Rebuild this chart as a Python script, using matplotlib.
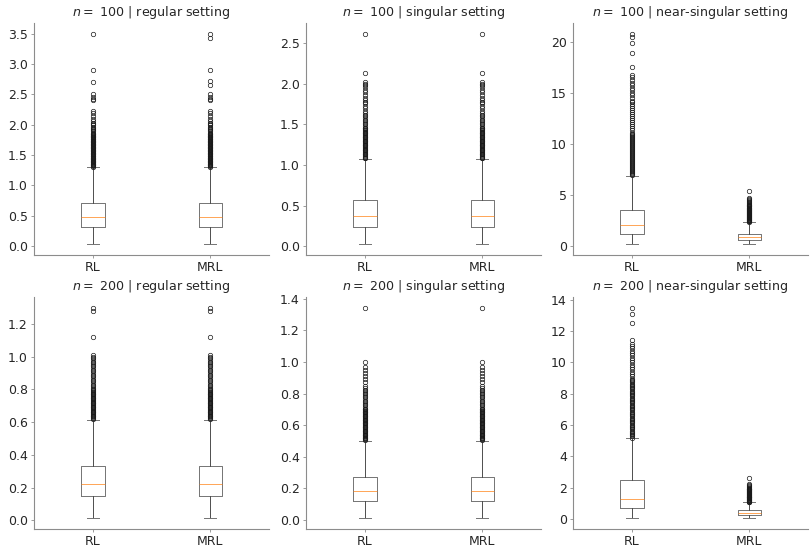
import matplotlib
matplotlib.use("Agg")
import matplotlib.pyplot as plt

# Noms des boîtes et des panneaux
METHODS = ["RL", "MRL"]
SAMPLE_SIZES = [100, 100, 100, 200, 200, 200]
SETTINGS = ["regular", "singular", "near-singular",
            "regular", "singular", "near-singular"]

# Statistiques : [RL, MRL] pour chaque panneau
whislo = [[0.03, 0.03], [0.02, 0.02], [0.13, 0.13],
          [0.012, 0.012], [0.008, 0.008], [0.04, 0.04]]
q1 = [[0.31, 0.31], [0.233, 0.233], [1.14, 0.59],
      [0.148, 0.148], [0.116, 0.116], [0.70, 0.25]]
med = [[0.475, 0.475], [0.375, 0.375], [2.0, 0.88],
       [0.225, 0.225], [0.181, 0.181], [1.31, 0.36]]
q3 = [[0.714, 0.714], [0.57, 0.57], [3.48, 1.2],
      [0.332, 0.332], [0.268, 0.268], [2.49, 0.55]]
whishi = [[1.30, 1.30], [1.07, 1.07], [6.87, 2.31],
          [0.616, 0.616], [0.502, 0.502], [5.18, 1.06]]

# Valeurs aberrantes (fliers)
fl_reg100_rl = [1.31, 1.33, 1.35, 1.37, 1.39, 1.41, 1.43, 1.45, 1.47, 1.49,
                1.51, 1.53, 1.55, 1.57, 1.59, 1.61, 1.63, 1.65, 1.67, 1.69,
                1.71, 1.73, 1.75, 1.77, 1.79, 1.81, 1.83, 1.85, 1.87, 1.89,
                1.91, 1.93, 1.95, 1.97, 1.99, 2.01, 2.03, 2.06, 2.09, 2.15,
                2.2, 2.22, 2.4, 2.43, 2.45, 2.5, 2.7, 2.9, 3.5,
                1.32, 1.34, 1.36, 1.38, 1.40, 1.42, 1.44, 1.46, 1.48, 1.50,
                1.52, 1.54, 1.56, 1.58, 1.60, 1.62, 1.64, 1.66, 1.68, 1.70,
                1.72, 1.74, 1.76, 1.78, 1.80, 1.82, 1.84]
fl_reg100_mrl = [1.31, 1.33, 1.35, 1.37, 1.39, 1.41, 1.43, 1.45, 1.47, 1.49,
                 1.51, 1.53, 1.55, 1.57, 1.59, 1.61, 1.63, 1.65, 1.67, 1.69,
                 1.71, 1.73, 1.75, 1.77, 1.79, 1.81, 1.83, 1.85, 1.87, 1.89,
                 1.91, 1.93, 1.95, 1.97, 1.99, 2.01, 2.03, 2.06, 2.09, 2.15,
                 2.2, 2.22, 2.4, 2.43, 2.46, 2.5, 2.66, 2.72, 2.9, 3.43, 3.5,
                 1.32, 1.34, 1.36, 1.38, 1.40, 1.42, 1.44, 1.46, 1.48, 1.50,
                 1.52, 1.54, 1.56, 1.58, 1.60, 1.62, 1.64, 1.66, 1.68, 1.70,
                 1.72, 1.74, 1.76, 1.78, 1.80, 1.82, 1.84]
fl_sing100 = [1.08, 1.10, 1.12, 1.14, 1.16, 1.18, 1.20, 1.22, 1.24, 1.26,
              1.28, 1.30, 1.32, 1.34, 1.36, 1.38, 1.40, 1.42, 1.44, 1.46,
              1.48, 1.50, 1.52, 1.54, 1.56, 1.58, 1.60, 1.62, 1.64, 1.67,
              1.70, 1.73, 1.76, 1.78, 1.80, 1.83, 1.86, 1.90, 1.93, 1.96,
              1.98, 2.0, 2.02, 2.13, 2.62,
              1.09, 1.11, 1.13, 1.15, 1.17, 1.19, 1.21, 1.23, 1.25, 1.27,
              1.29, 1.31, 1.33, 1.35, 1.37, 1.39, 1.41, 1.43, 1.45]
fl_near100_rl = [6.9, 7.1, 7.3, 7.5, 7.7, 7.9, 8.1, 8.3, 8.5, 8.7, 8.9,
                 9.1, 9.3, 9.5, 9.7, 9.9, 10.1, 10.3, 10.5, 10.7, 10.9,
                 11.1, 11.3, 11.5, 11.7, 11.9, 12.1, 12.3, 12.5, 12.7, 12.9,
                 13.1, 13.3, 13.5, 13.7, 13.9, 14.1, 14.2, 14.5, 14.8, 15.0,
                 15.3, 15.5, 15.8, 16.0, 16.2, 16.5, 16.7, 17.5, 18.9, 19.9,
                 20.5, 20.8,
                 7.0, 7.2, 7.4, 7.6, 7.8, 8.0, 8.2, 8.4, 8.6, 8.8, 9.0,
                 9.2, 9.4, 9.6, 9.8, 10.0, 10.2, 10.4, 10.6, 10.8, 11.0]
fl_near100_mrl = [2.35, 2.45, 2.55, 2.65, 2.75, 2.85, 2.95, 3.05, 3.15, 3.25,
                  3.35, 3.45, 3.55, 3.65, 3.75, 3.85, 3.95, 4.05, 4.15, 4.25,
                  4.35, 4.45, 4.55, 4.65, 5.35,
                  2.4, 2.5, 2.6, 2.7, 2.8, 2.9, 3.0, 3.1, 3.2, 3.3, 3.4,
                  3.5, 3.6, 3.7, 3.8, 3.9, 4.0]
fl_reg200 = [0.62, 0.63, 0.64, 0.65, 0.66, 0.67, 0.68, 0.69, 0.70, 0.71,
             0.72, 0.73, 0.74, 0.75, 0.76, 0.77, 0.78, 0.79, 0.80, 0.81,
             0.82, 0.83, 0.84, 0.85, 0.86, 0.87, 0.88, 0.89, 0.90, 0.91,
             0.92, 0.93, 0.94, 0.95, 0.96, 0.97, 0.98, 0.99, 1.0, 1.01,
             1.12, 1.28, 1.30,
             0.625, 0.635, 0.645, 0.655, 0.665, 0.675, 0.685, 0.695, 0.705,
             0.715, 0.725, 0.735, 0.745, 0.755, 0.765, 0.775, 0.785, 0.795]
fl_sing200 = [0.505, 0.515, 0.525, 0.535, 0.545, 0.555, 0.565, 0.575, 0.585,
              0.595, 0.605, 0.615, 0.625, 0.635, 0.645, 0.655, 0.665, 0.675,
              0.685, 0.695, 0.705, 0.715, 0.725, 0.735, 0.745, 0.755, 0.765,
              0.775, 0.785, 0.795, 0.805, 0.815, 0.825, 0.835, 0.845, 0.87,
              0.89, 0.91, 0.93, 0.95, 0.97, 1.0, 1.345,
              0.51, 0.52, 0.53, 0.54, 0.55, 0.56, 0.57, 0.58, 0.59, 0.60,
              0.61, 0.62, 0.63, 0.64, 0.65, 0.66, 0.67, 0.68, 0.69, 0.70]
fl_near200_rl = [5.2, 5.35, 5.5, 5.65, 5.8, 5.95, 6.1, 6.25, 6.4, 6.55, 6.7,
                 6.85, 7.0, 7.15, 7.3, 7.45, 7.6, 7.75, 7.9, 8.05, 8.2, 8.35,
                 8.5, 8.65, 8.8, 8.95, 9.1, 9.25, 9.4, 9.55, 9.7, 9.85, 10.0,
                 10.15, 10.3, 10.45, 10.6, 10.75, 10.9, 11.05, 11.2, 11.4,
                 12.5, 13.1, 13.5,
                 5.28, 5.43, 5.58, 5.73, 5.88, 6.03, 6.18, 6.33, 6.48, 6.63,
                 6.78, 6.93, 7.08, 7.23, 7.38, 7.53, 7.68, 7.83, 7.98, 8.13,
                 8.28, 8.43, 8.58, 8.73, 8.88]
fl_near200_mrl = [1.08, 1.14, 1.2, 1.26, 1.32, 1.38, 1.44, 1.5, 1.56, 1.62,
                  1.68, 1.74, 1.8, 1.86, 1.92, 1.98, 2.04, 2.1, 2.16, 2.22,
                  2.6,
                  1.11, 1.17, 1.23, 1.29, 1.35, 1.41, 1.47, 1.53, 1.59, 1.65,
                  1.71, 1.77, 1.83, 1.89, 1.95]

fliers = [[fl_reg100_rl, fl_reg100_mrl], [fl_sing100, fl_sing100],
          [fl_near100_rl, fl_near100_mrl], [fl_reg200, fl_reg200],
          [fl_sing200, fl_sing200], [fl_near200_rl, fl_near200_mrl]]

W, H = 811, 547
fig = plt.figure(figsize=(W / 100, H / 100), dpi=100)

lefts = [34, 306, 573]
tops = [23, 297]
ax_w, ax_h = 235, 232

for k in range(6):
    row, col = divmod(k, 3)
    rect = [lefts[col] / W, 1 - (tops[row] + ax_h) / H, ax_w / W, ax_h / H]
    ax = fig.add_axes(rect)

    stats = []
    for j, name in enumerate(METHODS):
        stats.append({
            "label": name,
            "whislo": whislo[k][j], "q1": q1[k][j], "med": med[k][j],
            "q3": q3[k][j], "whishi": whishi[k][j], "fliers": fliers[k][j],
        })

    ax.bxp(stats, widths=0.2,
           boxprops=dict(color="0.45", linewidth=0.7),
           whiskerprops=dict(color="0.3", linewidth=0.7),
           capprops=dict(color="0.45", linewidth=0.7),
           medianprops=dict(color="#ff7f0e", linewidth=0.7, alpha=0.7),
           flierprops=dict(marker="o", markersize=3.2, markerfacecolor="none",
                           markeredgecolor="0.1", markeredgewidth=0.5))

    ax.set_title(f"$n = $ {SAMPLE_SIZES[k]} | {SETTINGS[k]} setting",
                 fontsize=9.1, color="0.15", pad=5)
    for side in ["top", "right"]:
        ax.spines[side].set_visible(False)
    for side in ["left", "bottom"]:
        ax.spines[side].set_color("0.55")
        ax.spines[side].set_linewidth(0.8)
    ax.tick_params(colors="0.55", labelcolor="0.15", labelsize=9,
                   length=2.5, width=0.6, pad=2)
    ax.tick_params(axis="x", pad=1.5)

fig.savefig("out.png", dpi=100)
